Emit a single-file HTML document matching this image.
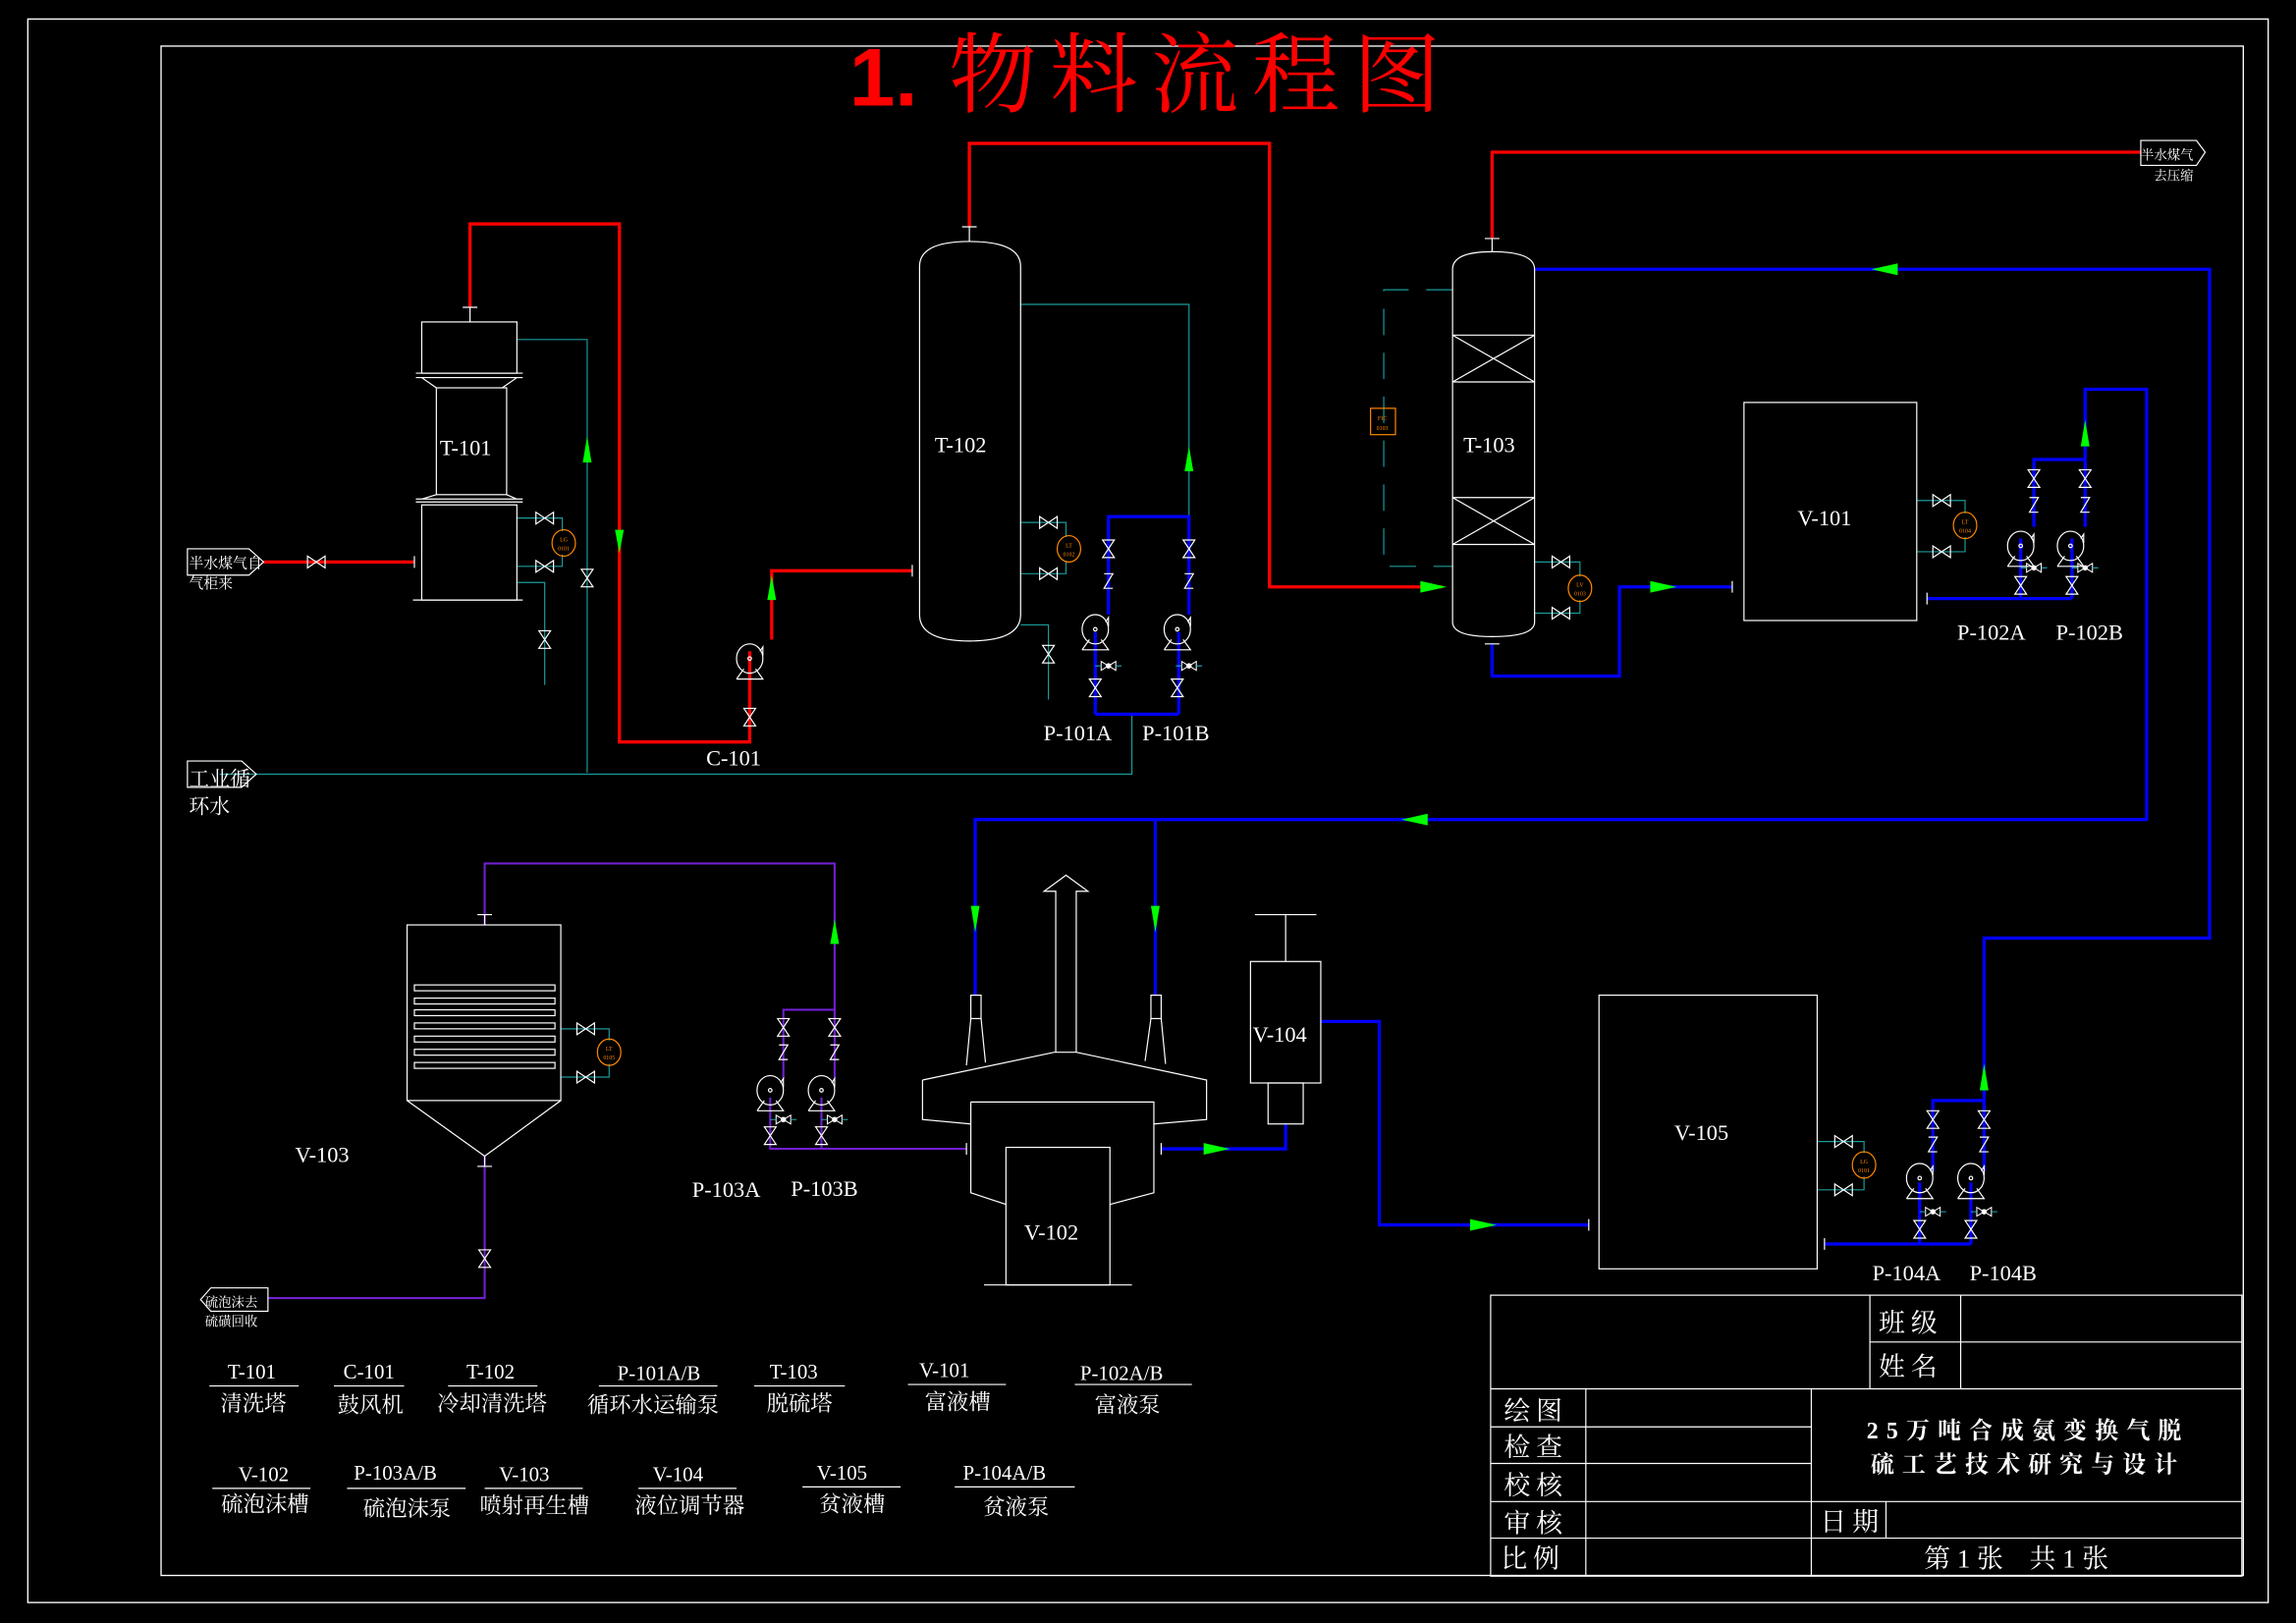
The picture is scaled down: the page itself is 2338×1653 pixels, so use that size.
<!DOCTYPE html>
<html><head><meta charset="utf-8"><style>
html,body{margin:0;padding:0;background:#000;}
svg{display:block}
text{font-family:"Liberation Serif","Noto Serif CJK SC","Noto Sans CJK SC",serif;fill:#fff}
.cj{font-family:"Liberation Serif","Noto Sans CJK SC",sans-serif}
</style></head><body>
<svg width="2338" height="1653" viewBox="0 0 1568 1109" preserveAspectRatio="none" xmlns="http://www.w3.org/2000/svg">
<defs>
<g id="vh"><path d="M-6,-4 L6,4 L6,-4 L-6,4 Z" fill="none" stroke="#fff" stroke-width="0.8"/></g>
<g id="vv"><path d="M-4,-6 L4,6 L-4,6 L4,-6 Z" fill="none" stroke="#fff" stroke-width="0.8"/></g>
<g id="pump" fill="none" stroke="#fff" stroke-width="0.8"><ellipse cx="0" cy="0" rx="9" ry="10"/><path d="M-9,14 L9,14 L4,7 M-4,7 L-9,14"/><path d="M7,-5 L9,-8 L9,-2"/><circle cx="0" cy="0" r="1.2"/></g>
<g id="chk" fill="none" stroke="#fff" stroke-width="0.8"><path d="M-3,-5 L3,-5 L-3,5 L3,5"/></g>
<g id="hv" fill="none" stroke="#fff" stroke-width="0.7"><path d="M-5,-3 L5,3 L5,-3 L-5,3 Z"/><circle r="1.5" fill="#fff"/><path d="M-9,0 L-5,0 M5,0 L9,0" stroke="#2ab"/></g>
</defs>
<rect x="0" y="0" width="1568" height="1109" fill="#000"/>
<rect x="19" y="13" width="1530" height="1082" fill="none" stroke="#fff" stroke-width="0.9"/>
<rect x="110" y="31.5" width="1422" height="1045" fill="none" stroke="#fff" stroke-width="0.9"/>
<!-- title -->
<text x="580" y="72" font-size="56" style="fill:#f00;font-family:'Liberation Sans',sans-serif;font-weight:bold">1.</text>
<text x="648" y="72" font-size="60" letter-spacing="9" style="fill:#f00;font-family:'Noto Serif CJK SC',serif">物料流程图</text>

<g fill="none" stroke="#1a9a9a" stroke-width="0.8">
<path d="M353,232 H401 V528"/>
<path d="M353,354 H384 V363 M353,387 H384 V379"/>
<path d="M353,398 H372 V468"/>
<path d="M150,529 H773 V488"/>
<path d="M697,208 H812 V353"/>
<path d="M697,357 H728 V367 M697,392 H728 V383"/>
<path d="M697,427 H716 V478"/>
<path d="M1048,384 H1079 V394 M1048,419 H1079 V410"/>
<path d="M1309,342 H1342 V351 M1309,377 H1342 V367"/>
<path d="M383,703 H416 V711 M383,736 H416 V727"/>
<path d="M1241,780 H1273 V788 M1241,813 H1273 V804"/>
<path d="M992,198 H945 V387 H992" stroke-dasharray="18,12"/>
</g>

<g fill="none" stroke="#f00" stroke-width="2.2">
<path d="M321,210 V153 H423 V507 H512 V445"/>
<path d="M527,437 V390 H623"/>
<path d="M662,155 V98 H867 V401 H985"/>
<path d="M1019,163 V104 H1462"/>
<path d="M180,384 H283"/>
</g>
<g fill="none" stroke="#00f" stroke-width="2.2">
<path d="M1048,184 H1509 V641 H1355 V752 H1320 V800"/>
<path d="M1355,752 V800"/>
<path d="M1019,440 V462 H1106 V401 H1183"/>
<path d="M1316,409 H1415 M1380,409 V368 M1415,409 V368"/>
<path d="M1389,360 V314 H1424 V266 H1466 V560 H666 V680 M789,560 V680"/>
<path d="M1424,314 V360"/>
<path d="M757,420 V353 H812 V420"/>
<path d="M748,488 H805 M748,488 V432 M805,488 V432"/>
<path d="M793,785 H878 V768"/>
<path d="M902,698 H942 V837 H1085"/>
<path d="M1246,850 H1346 M1311,850 V808 M1346,850 V808"/>
</g>
<g fill="none" stroke="#7020d0" stroke-width="1.4">
<path d="M660,785 H526 V750 M561,785 V750"/>
<path d="M535,737 V690 H570 V737 M570,690 V590 H331 V632"/>
<path d="M331,790 V887 H183"/>
</g>

<g fill="#0f0">
<polygon points="401,298 398,316 404,316"/>
<polygon points="423,378 420,362 426,362"/>
<polygon points="527,393 524,410 530,410"/>
<polygon points="812,305 809,322 815,322"/>
<polygon points="988,401 970,397 970,405"/>
<polygon points="1278,184 1296,180 1296,188"/>
<polygon points="1145,401 1127,397 1127,405"/>
<polygon points="1424,287 1421,305 1427,305"/>
<polygon points="957,560 975,556 975,564"/>
<polygon points="666,637 663,619 669,619"/>
<polygon points="789,637 786,619 792,619"/>
<polygon points="570,628 567,645 573,645"/>
<polygon points="840,785 822,781 822,789"/>
<polygon points="1022,837 1004,833 1004,841"/>
<polygon points="1355,727 1352,745 1358,745"/>
</g>

<g fill="none" stroke="#fff" stroke-width="0.8">
<rect x="288" y="220" width="65" height="35"/>
<path d="M321,210 V220 M316,210 H326"/>
<path d="M284,255 H357 M284,258 H357 M288,258 L298,265 M353,258 L343,265"/>
<rect x="298" y="265" width="48" height="73"/>
<path d="M284,341 H357 M284,343 H357 M298,338 L288,341 M346,338 L353,341"/>
<rect x="288" y="345" width="65" height="65"/>
<path d="M282,410 H357 M283,380 V388"/>
<path d="M628,182 Q628,165 662,165 Q697,165 697,182 V420 Q697,438 662,438 Q628,438 628,420 Z"/>
<path d="M662,155 V165 M657,155 H667 M623,386 V394"/>
<path d="M992,184 Q992,172 1019,172 Q1048,172 1048,184 V425 Q1048,435 1019,435 Q992,435 992,425 Z"/>
<path d="M1019,163 V172 M1014,163 H1024 M1014,440 H1024"/>
<path d="M992,229 H1048 M992,261 H1048 M992,229 L1048,261 M1048,229 L992,261"/>
<path d="M992,340 H1048 M992,372 H1048 M992,340 L1048,372 M1048,340 L992,372"/>
<rect x="1191" y="275" width="118" height="149"/>
<path d="M1183,397 V405 M1316,405 V413"/>
<rect x="278" y="632" width="105" height="120"/>
<path d="M331,632 V625 M326,625 H336"/>
<path d="M278,752 L331,790 L383,752 M331,790 V797 M326,797 H336"/>
<g>
<rect x="283" y="673" width="96" height="4"/><rect x="283" y="682" width="96" height="4"/><rect x="283" y="690" width="96" height="4"/><rect x="283" y="699" width="96" height="4"/><rect x="283" y="708" width="96" height="4"/><rect x="283" y="717" width="96" height="4"/><rect x="283" y="726" width="96" height="4"/>
</g>
<path d="M721,719 V609 H713 L728,598 L743,609 H735 V719"/>
<path d="M630,738 L720,719 L735,719 L824,738 V765 L788,768"/>
<path d="M630,738 V765 L663,768"/>
<path d="M663,753 H788 V815 L758,823 M663,753 V815 L687,823"/>
<rect x="687" y="784" width="71" height="94"/>
<path d="M672,878 H773 M660,781 V789 M793,781 V789"/>
<rect x="663" y="680" width="7" height="16"/><rect x="786" y="680" width="7" height="16"/>
<path d="M663,696 L660,728 M670,696 L673,726 M786,696 L782,725 M793,696 L796,727"/>
<rect x="854" y="657" width="48" height="83"/>
<rect x="866" y="740" width="24" height="28"/>
<path d="M878,657 V625 M857,625 H899"/>
<rect x="1092" y="680" width="149" height="187"/>
<path d="M1085,833 V841 M1246,846 V854"/>
</g>

<use href="#pump" x="512" y="450"/>
<use href="#pump" x="748" y="430"/><use href="#pump" x="804" y="430"/>
<use href="#pump" x="1380" y="373"/><use href="#pump" x="1414" y="373"/>
<use href="#pump" x="526" y="745"/><use href="#pump" x="561" y="745"/>
<use href="#pump" x="1311" y="805"/><use href="#pump" x="1346" y="805"/>
<use href="#vh" x="216" y="384"/>
<use href="#vh" x="372" y="354"/><use href="#vh" x="372" y="387"/>
<use href="#vv" x="401" y="395"/><use href="#vv" x="372" y="437"/>
<use href="#vv" x="512" y="490"/>
<use href="#vh" x="716" y="357"/><use href="#vh" x="716" y="392"/>
<use href="#vv" x="716" y="447"/>
<use href="#vv" x="757" y="375"/><use href="#vv" x="812" y="375"/>
<use href="#chk" x="757" y="397"/><use href="#chk" x="812" y="397"/>
<use href="#hv" x="757" y="455"/><use href="#hv" x="812" y="455"/>
<use href="#vv" x="748" y="470"/><use href="#vv" x="804" y="470"/>
<use href="#vh" x="1066" y="384"/><use href="#vh" x="1066" y="419"/>
<use href="#vh" x="1326" y="342"/><use href="#vh" x="1326" y="377"/>
<use href="#vv" x="1389" y="327"/><use href="#vv" x="1424" y="327"/>
<use href="#chk" x="1389" y="345"/><use href="#chk" x="1424" y="345"/>
<use href="#hv" x="1389" y="388"/><use href="#hv" x="1424" y="388"/>
<use href="#vv" x="1380" y="400"/><use href="#vv" x="1415" y="400"/>
<use href="#vh" x="400" y="703"/><use href="#vh" x="400" y="736"/>
<use href="#vv" x="331" y="860"/>
<use href="#vv" x="535" y="702"/><use href="#vv" x="570" y="702"/>
<use href="#chk" x="535" y="719"/><use href="#chk" x="570" y="719"/>
<use href="#hv" x="535" y="765"/><use href="#hv" x="570" y="765"/>
<use href="#vv" x="526" y="776"/><use href="#vv" x="561" y="776"/>
<use href="#vh" x="1259" y="780"/><use href="#vh" x="1259" y="813"/>
<use href="#vv" x="1320" y="765"/><use href="#vv" x="1355" y="765"/>
<use href="#chk" x="1320" y="782"/><use href="#chk" x="1355" y="782"/>
<use href="#hv" x="1320" y="828"/><use href="#hv" x="1355" y="828"/>
<use href="#vv" x="1311" y="840"/><use href="#vv" x="1346" y="840"/>

<g fill="none" stroke="#f80" stroke-width="0.8">
<ellipse cx="385" cy="371" rx="8" ry="9"/>
<ellipse cx="730" cy="375" rx="8" ry="9"/>
<ellipse cx="1079" cy="402" rx="8" ry="9"/>
<ellipse cx="1342" cy="359" rx="8" ry="9"/>
<ellipse cx="416" cy="719" rx="8" ry="9"/>
<ellipse cx="1273" cy="796" rx="8" ry="9"/>
<rect x="936" y="279" width="17" height="18"/>
</g>
<g font-size="4" text-anchor="middle" style="font-family:'Liberation Sans',sans-serif">
<text x="385" y="370" style="fill:#f80">LG</text><text x="385" y="376" style="fill:#f80">0101</text>
<text x="730" y="374" style="fill:#f80">LT</text><text x="730" y="380" style="fill:#f80">0102</text>
<text x="1079" y="401" style="fill:#f80">LV</text><text x="1079" y="407" style="fill:#f80">0103</text>
<text x="1342" y="358" style="fill:#f80">LT</text><text x="1342" y="364" style="fill:#f80">0104</text>
<text x="416" y="718" style="fill:#f80">LT</text><text x="416" y="724" style="fill:#f80">0105</text>
<text x="1273" y="795" style="fill:#f80">LG</text><text x="1273" y="801" style="fill:#f80">0101</text>
<text x="944" y="287" style="fill:#f80">FIC</text><text x="944" y="294" style="fill:#f80">0103</text>
</g>

<g fill="none" stroke="#fff" stroke-width="0.8">
<path d="M128,375 H170 L180,384 L170,393 H128 Z"/>
<path d="M128,520 H165 L175,529 L165,538 H128 Z"/>
<path d="M1462,96 H1500 L1506,104 L1500,113 H1462 Z"/>
<path d="M183,880 H144 L137,888 L144,896 H183 Z"/>
</g>
<g class="cj" style="font-family:'Noto Sans CJK SC',sans-serif">
<text x="129" y="388" font-size="10">半水煤气自</text>
<text x="129" y="402" font-size="10">气柜来</text>
<text x="129" y="537" font-size="14">工业循</text>
<text x="129" y="556" font-size="14">环水</text>
<text x="1462" y="109" font-size="9">半水煤气</text>
<text x="1471" y="123" font-size="9">去压缩</text>
<text x="140" y="893" font-size="9">硫泡沫去</text>
<text x="140" y="906" font-size="9">硫磺回收</text>
</g>

<g font-size="15" text-anchor="middle">
<text x="318" y="311">T-101</text>
<text x="656" y="309">T-102</text>
<text x="1017" y="309">T-103</text>
<text x="1246" y="359">V-101</text>
<text x="220" y="794">V-103</text>
<text x="718" y="847">V-102</text>
<text x="874" y="712">V-104</text>
<text x="1162" y="779">V-105</text>
<text x="501" y="523">C-101</text>
<text x="736" y="506">P-101A</text>
<text x="803" y="506">P-101B</text>
<text x="1360" y="437">P-102A</text>
<text x="1427" y="437">P-102B</text>
<text x="496" y="818">P-103A</text>
<text x="563" y="817">P-103B</text>
<text x="1302" y="875">P-104A</text>
<text x="1368" y="875">P-104B</text>
</g>

<g font-size="14" text-anchor="middle">
<text x="172" y="942">T-101</text><text x="252" y="942">C-101</text><text x="335" y="942">T-102</text><text x="450" y="943">P-101A/B</text><text x="542" y="942">T-103</text><text x="645" y="941">V-101</text><text x="766" y="943">P-102A/B</text>
<text x="180" y="1012">V-102</text><text x="270" y="1011">P-103A/B</text><text x="358" y="1012">V-103</text><text x="463" y="1012">V-104</text><text x="575" y="1011">V-105</text><text x="686" y="1011">P-104A/B</text>
</g>
<g stroke="#fff" stroke-width="0.8">
<path d="M143,947 H204 M228,947 H276 M306,947 H367 M409,947 H490 M515,947 H577 M620,946 H687 M734,946 H814"/>
<path d="M145,1017 H212 M237,1017 H318 M331,1017 H398 M436,1017 H503 M548,1016 H615 M652,1016 H734"/>
</g>
<g class="cj" font-size="15" text-anchor="middle" style="font-family:'Noto Sans CJK SC',sans-serif">
<text x="173" y="964">清洗塔</text><text x="253" y="965">鼓风机</text><text x="336" y="964">冷却清洗塔</text><text x="446" y="965">循环水运输泵</text><text x="546" y="964">脱硫塔</text><text x="654" y="963">富液槽</text><text x="770" y="965">富液泵</text>
<text x="181" y="1033">硫泡沫槽</text><text x="278" y="1036">硫泡沫泵</text><text x="365" y="1034">喷射再生槽</text><text x="471" y="1034">液位调节器</text><text x="582" y="1033">贫液槽</text><text x="694" y="1035">贫液泵</text>
</g>

<g fill="none" stroke="#fff" stroke-width="0.8">
<rect x="1018" y="885" width="513" height="192"/>
<path d="M1018,949 H1531 M1277,885 V949 M1339,885 V949 M1277,917 H1531"/>
<path d="M1018,975 H1237 M1018,1000 H1237 M1018,1026 H1531 M1018,1051 H1531"/>
<path d="M1083,949 V1077 M1237,949 V1077 M1288,1026 V1051"/>
</g>
<g class="cj" font-size="18" style="font-family:'Noto Sans CJK SC',sans-serif" letter-spacing="4">
<text x="1283" y="910">班级</text>
<text x="1283" y="940">姓名</text>
<text x="1027" y="970">绘图</text>
<text x="1027" y="995">检查</text>
<text x="1027" y="1021">校核</text>
<text x="1027" y="1047">审核</text>
<text x="1025" y="1071">比例</text>
<text x="1243" y="1046">日期</text>
</g>
<g class="cj" font-size="16" font-weight="bold" style="font-family:'Noto Sans CJK SC',sans-serif" letter-spacing="5.5" text-anchor="middle">
<text x="1385" y="983">25万吨合成氨变换气脱</text>
<text x="1385" y="1006">硫工艺技术研究与设计</text>
</g>
<g class="cj" font-size="18" style="font-family:'Noto Sans CJK SC',sans-serif" text-anchor="middle">
<text x="1377" y="1071" xml:space="preserve">第 1 张    共 1 张</text>
</g>
</svg>
</body></html>
